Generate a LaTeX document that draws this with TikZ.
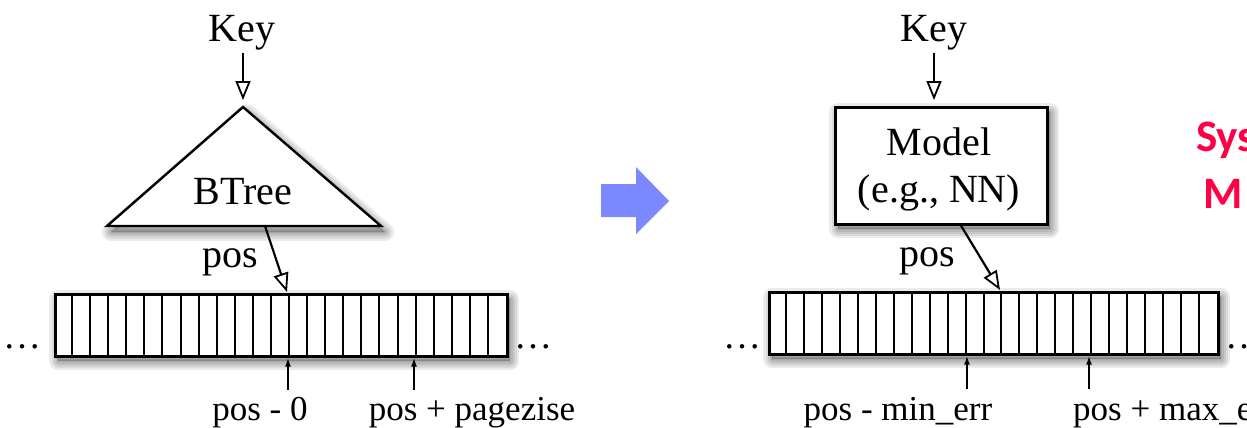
\documentclass[tikz,border=0pt]{standalone}
\usepackage{fontspec}
\setmainfont{Liberation Serif}
\newfontfamily\redfont{Carlito}
\usetikzlibrary{arrows.meta,calc}
\definecolor{bluearrow}{RGB}{123,136,255}
\definecolor{redtext}{RGB}{255,0,68}
\tikzset{
  lbl/.style={font=\fontsize{40}{44}\selectfont, inner sep=0pt, anchor=base},
  sublbl/.style={font=\fontsize{35}{40}\selectfont, inner sep=0pt, anchor=base},
  openarrow/.style={line width=2.2pt, -{Triangle[open, length=19pt, width=15pt, line width=1.8pt]}},
  uparrow/.style={line width=2.2pt, -{Latex[length=9pt, width=6pt]}},
  arraybox/.style={draw, line width=2.6pt, fill=white, inner sep=0pt},
  divider/.style={line width=2pt},
  dots/.style={font=\fontsize{38}{40}\selectfont, inner sep=0pt, anchor=base},
  redlbl/.style={font=\redfont\bfseries\fontsize{45}{48}\selectfont, text=redtext, inner sep=0pt, anchor=base west}
}
\newcommand\softshadow[1]{%
  \begin{scope}[shift={(4,6)}]
    \fill[black, opacity=0.2] #1;
    \foreach \w in {18,13,9,5,2} {\draw[black, opacity=0.08, line width=\w pt, line join=round] #1;}
  \end{scope}}
\begin{document}
\begin{tikzpicture}[x=1pt, y=-1pt]
\useasboundingbox (0,0) rectangle (1247,428);

% ---------------- Left panel ----------------
\node[lbl] (keyL) at (242,42) {Key};
\coordinate (keyLs) at (243,53);
\coordinate (apexL) at (243,107);
\coordinate (apexLtop) at (243,100);
\softshadow{(243,107) -- (381,226) -- (107,226) -- cycle}
\draw[line width=2.4pt, fill=white, line join=miter] (apexL) -- (381,226) -- (107,226) -- cycle;
\node[lbl] (btree) at (243,204) {BTree};
\draw[openarrow] (keyLs) -- (apexLtop);
\coordinate (trisrc) at (265,226);

\softshadow{(54,293) rectangle (506,355)}
\node[arraybox, minimum width=452pt, minimum height=62pt, anchor=north west] (arrL) at (54,293) {};
\foreach \i in {1,...,24} {
  \draw[divider] ($(arrL.north west)+(\i*18.08,0)$) -- ($(arrL.south west)+(\i*18.08,0)$);
}
\node[lbl] (posL) at (230,267) {pos};
\coordinate (arrLhit) at (287,292);
\draw[openarrow] (trisrc) -- (arrLhit);

\node[dots] (dotsL1) at (23,348) {\ldots};
\node[dots] (dotsL2) at (533,348) {\ldots};

\coordinate (upL1) at (288,390);
\coordinate (upL2) at (414,390);
\draw[uparrow] (upL1) -- (upL1 |- arrL.south);
\draw[uparrow] (upL2) -- (upL2 |- arrL.south);
\node[sublbl] (labL1) at (260,420) {pos - 0};
\node[sublbl] (labL2) at (472,420) {pos + pagezise};

% ---------------- Middle arrow ----------------
\fill[bluearrow] (601,184) -- (636,184) -- (636,167) -- (669,201) -- (636,234) -- (636,217) -- (601,217) -- cycle;

% ---------------- Right panel ----------------
\node[lbl] (keyR) at (934,42) {Key};
\coordinate (keyRs) at (934,53);
\softshadow{(834,106) rectangle (1046,223)}
\node[draw, line width=2.8pt, fill=white, minimum width=212pt, minimum height=117pt, anchor=north west, inner sep=0pt] (model) at (834,106) {};
\node[lbl] (modelt1) at (939,155) {Model};
\node[lbl] (modelt2) at (939,202) {(e.g., NN)};
\coordinate (keyRt) at (934,100);
\draw[openarrow] (keyRs) -- (keyRt);

\softshadow{(768,291) rectangle (1217,353)}
\node[arraybox, minimum width=449pt, minimum height=62pt, anchor=north west] (arrR) at (768,291) {};
\foreach \i in {1,...,24} {
  \draw[divider] ($(arrR.north west)+(\i*17.96,0)$) -- ($(arrR.south west)+(\i*17.96,0)$);
}
\node[lbl] (posR) at (927,266) {pos};
\coordinate (modsrc) at (960,224);
\coordinate (arrRhit) at (1000,290);
\draw[openarrow] (modsrc) -- (arrRhit);

\node[dots] (dotsR1) at (742,348) {\ldots};
\node[dots] (dotsR2) at (1244,348) {\ldots};

\coordinate (upR1) at (967,389);
\coordinate (upR2) at (1089,389);
\draw[uparrow] (upR1) -- (upR1 |- arrR.south);
\draw[uparrow] (upR2) -- (upR2 |- arrR.south);
\node[sublbl] (labR1) at (898,420) {pos - min\_err};
\node[sublbl, anchor=base west] (labR2) at (1073,420) {pos + max\_err};

\node[redlbl] (red1) at (1196,151) {Sys};
\node[redlbl] (red2) at (1203,208) {M};
\end{tikzpicture}
\end{document}
